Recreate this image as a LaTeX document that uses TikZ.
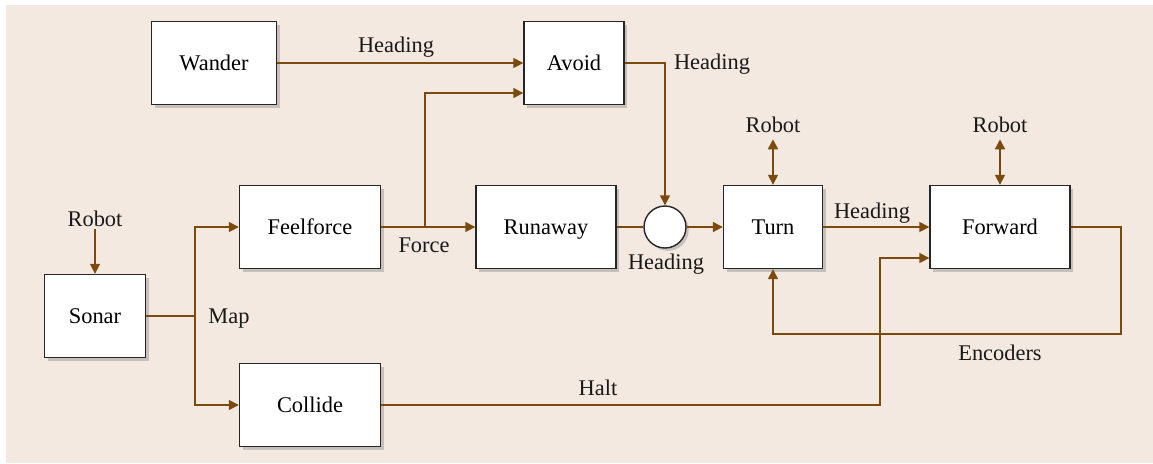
\documentclass[tikz,border=0pt]{standalone}
\usepackage{fontspec}
\setmainfont{Liberation Serif}
\usepackage{xcolor}
\usetikzlibrary{shapes, arrows.meta, positioning, shadows}

\definecolor{bgtan}{HTML}{F3E9E0}
\definecolor{linebrown}{HTML}{7C4A0C}

\begin{document}
\begin{tikzpicture}[x=0.5pt, y=-0.5pt, font=\fontsize{11.2}{13}\selectfont,
                box/.style={draw=black!85, line width=0.7pt, fill=white, rectangle, minimum height=41.5pt, align=center,
                  text height=7.4pt, text depth=0pt,
                  drop shadow={shadow xshift=1.6pt, shadow yshift=-1.6pt, fill=black!40}},
                wire/.style={draw=linebrown, line width=0.8pt},
                tip/.style={wire, -{Triangle[length=5pt, width=5pt]}},
                twotip/.style={wire, {Triangle[length=5pt, width=5pt]}-{Triangle[length=5pt, width=5pt]}},
                lbl/.style={text=black!90, inner sep=1pt}]
                \useasboundingbox (0,0) rectangle (1153,463);
                \fill[bgtan] (6,5) rectangle (1153,463);

                % blocks
                \node[box, minimum width=62.5pt] (wander) at (214,63) {Wander};
                \node[box, minimum width=50pt] (avoid) at (574,63) {Avoid};
                \node[box, minimum width=70.5pt] (feelforce) at (310,227) {Feelforce};
                \node[box, minimum width=70pt] (runaway) at (546,227) {Runaway};
                \node[circle, draw=black!85, line width=0.7pt, fill=white, minimum size=21pt, inner sep=0pt,
                  drop shadow={shadow xshift=1.4pt, shadow yshift=-1.4pt, fill=black!40}] (sum) at (665,227) {};
                \node[box, minimum width=49.5pt] (turn) at (773,227) {Turn};
                \node[box, minimum width=70pt] (forward) at (1000,227) {Forward};
                \node[box, minimum width=50.5pt] (sonar) at (95,316) {Sonar};
                \node[box, minimum width=70.5pt] (collide) at (310,405) {Collide};

                % labels
                \node[lbl] (robotsonar) at (95,219) {Robot};
                \node[lbl] (robotturn) at (773,125) {Robot};
                \node[lbl] (robotfwd) at (1000,125) {Robot};
                \node[lbl] at (396,47) {Heading};
                \node[lbl] at (712,64) {Heading};
                \node[lbl] at (424,245) {Force};
                \node[lbl] at (666,264) {Heading};
                \node[lbl] at (872,213) {Heading};
                \node[lbl] at (1000,353) {Encoders};
                \node[lbl] at (598,388) {Halt};
                \node[lbl] at (229,319) {Map};

                % bend points
                \coordinate (mapx) at (195,316);
                \coordinate (forcex) at (425,227);
                \coordinate (encx) at (1121,334);
                \coordinate (haltx) at (880,405);

                \draw[tip] (robotsonar) -- (sonar);
                \draw[wire] (sonar.east) -- (mapx);
                \draw[tip] (mapx) |- (feelforce.west);
                \draw[tip] (mapx) |- (collide.west);

                \draw[tip] (wander) -- (avoid);
                \draw[tip] (feelforce) -- (runaway);
                \draw[tip] (forcex) |- ([yshift=-15pt]avoid.west);
                \draw[tip] (avoid.east) -| (sum.north);
                \draw[wire] (runaway) -- (sum);
                \draw[tip] (sum) -- (turn);

                \draw[twotip] ([yshift=-2pt]robotturn.south) -- (turn);
                \draw[twotip] ([yshift=-2pt]robotfwd.south) -- (forward);
                \draw[tip] (turn) -- (forward);
                \draw[tip] (forward.east) -| (encx) -| (turn.south);
                \draw[tip] (collide.east) -- (haltx) |- ([yshift=-15.5pt]forward.west);
            \end{tikzpicture}
\end{document}
